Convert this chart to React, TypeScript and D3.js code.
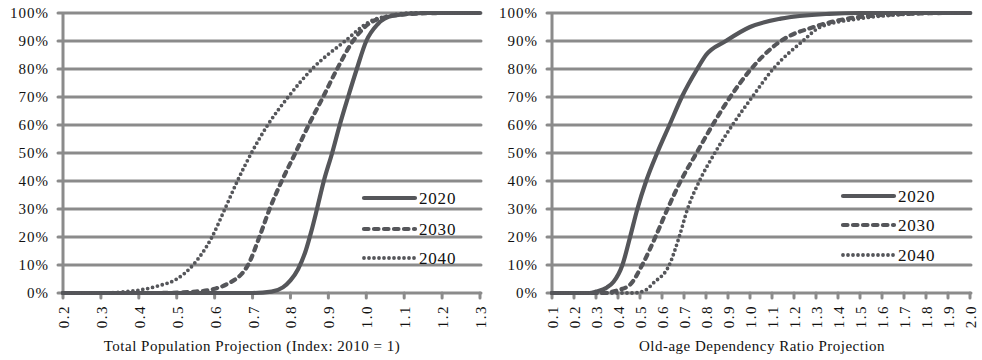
import React from "react";
import * as d3 from "d3";

// cumulative share (0..1) at each projection value
const pop2020: [number, number][] = [
  [0.2, 0], [0.7, 0], [0.75, 0.005], [0.78, 0.02], [0.8, 0.045], [0.82, 0.085], [0.84, 0.15],
  [0.855, 0.22], [0.87, 0.3], [0.888, 0.4], [0.91, 0.5], [0.93, 0.6], [0.952, 0.7], [0.975, 0.8],
  [1.0, 0.9], [1.03, 0.96], [1.07, 0.99], [1.15, 1], [1.3, 1],
];
const pop2030: [number, number][] = [
  [0.2, 0], [0.45, 0], [0.55, 0.005], [0.6, 0.015], [0.63, 0.03], [0.688, 0.1], [0.718, 0.2],
  [0.745, 0.3], [0.777, 0.4], [0.813, 0.5], [0.848, 0.6], [0.886, 0.7], [0.923, 0.8], [0.965, 0.9],
  [1.005, 0.96], [1.05, 0.985], [1.1, 0.995], [1.2, 1], [1.3, 1],
];
const pop2040: [number, number][] = [
  [0.2, 0], [0.3, 0], [0.35, 0.003], [0.4, 0.01], [0.45, 0.025], [0.5, 0.05], [0.543, 0.1],
  [0.593, 0.2], [0.627, 0.3], [0.66, 0.4], [0.697, 0.5], [0.74, 0.6], [0.794, 0.7], [0.857, 0.8],
  [0.944, 0.9], [1.01, 0.97], [1.06, 0.99], [1.12, 1], [1.3, 1],
];

const old2020: [number, number][] = [
  [0.1, 0], [0.27, 0], [0.3, 0.005], [0.35, 0.02], [0.38, 0.04], [0.42, 0.1], [0.455, 0.2],
  [0.488, 0.3], [0.528, 0.4], [0.578, 0.5], [0.634, 0.6], [0.69, 0.7], [0.76, 0.8], [0.8, 0.85],
  [0.89, 0.9], [1.0, 0.95], [1.14, 0.98], [1.36, 0.997], [1.5, 1], [2.0, 1],
];
const old2030: [number, number][] = [
  [0.1, 0], [0.33, 0], [0.4, 0.01], [0.455, 0.03], [0.51, 0.1], [0.57, 0.2], [0.625, 0.3],
  [0.685, 0.4], [0.757, 0.5], [0.83, 0.6], [0.91, 0.7], [1.005, 0.8], [1.14, 0.9], [1.29, 0.95],
  [1.41, 0.975], [1.55, 0.99], [1.75, 0.998], [1.9, 1], [2.0, 1],
];
const old2040: [number, number][] = [
  [0.1, 0], [0.47, 0], [0.525, 0.01], [0.56, 0.035], [0.633, 0.1], [0.678, 0.2], [0.716, 0.3],
  [0.77, 0.4], [0.84, 0.5], [0.92, 0.6], [1.01, 0.7], [1.105, 0.8], [1.24, 0.9], [1.32, 0.95],
  [1.5, 0.98], [1.7, 0.995], [1.9, 1], [2.0, 1],
];

const years = ["2020", "2030", "2040"];
const yTicks = [0, 0.1, 0.2, 0.3, 0.4, 0.5, 0.6, 0.7, 0.8, 0.9, 1];
const popTicks = [0.2, 0.3, 0.4, 0.5, 0.6, 0.7, 0.8, 0.9, 1.0, 1.1, 1.2, 1.3];
const oldTicks = [0.1, 0.2, 0.3, 0.4, 0.5, 0.6, 0.7, 0.8, 0.9, 1.0, 1.1, 1.2, 1.3, 1.4, 1.5, 1.6, 1.7, 1.8, 1.9, 2.0];

const gridColor = "#8b8b8b";
const lineColor = "#55565a";
const font = "Liberation Serif, Times New Roman, serif";

// solid, dashed, dotted
const styles = [
  { width: 4.2, dash: undefined as string | undefined },
  { width: 4.2, dash: "4.5 5.5" },
  { width: 3.8, dash: "0 5" },
];

type PanelProps = {
  series: [number, number][][];
  ticks: number[];
  x0: number;
  x1: number;
  title: string;
  titleX: number;
  labelRight: number;
  legendX: number;
  legendY: number[];
};

const Panel = ({ series, ticks, x0, x1, title, titleX, labelRight, legendX, legendY }: PanelProps) => {
  const x = d3.scaleLinear().domain([ticks[0], ticks[ticks.length - 1]]).range([x0, x1]);
  const y = d3.scaleLinear().domain([0, 1]).range([293, 13]);
  const line = d3
    .line<[number, number]>()
    .x((d) => x(d[0]))
    .y((d) => y(d[1]))
    .curve(d3.curveMonotoneX);

  return (
    <g>
      {/* horizontal grid + left ticks */}
      {yTicks.map((t) => (
        <g key={t}>
          <line x1={x0 - 5} x2={x1 + 1} y1={y(t)} y2={y(t)} stroke={gridColor} strokeWidth={3} strokeLinecap="round" />
          <text
            x={labelRight}
            y={y(t)}
            dy="0.35em"
            textAnchor="end"
            fontSize={15}
            letterSpacing={1}
            fontFamily={font}
            fill="#111"
          >
            {Math.round(t * 100) + "%"}
          </text>
        </g>
      ))}
      <line x1={x0} x2={x0} y1={y(1)} y2={y(0)} stroke={gridColor} strokeWidth={3} />
      {ticks.map((t) => (
        <g key={t}>
          <line x1={x(t)} x2={x(t)} y1={y(0)} y2={y(0) + 5} stroke={gridColor} strokeWidth={3} strokeLinecap="round" />
          <text
            transform={`translate(${x(t) + 6},305) rotate(-90)`}
            textAnchor="end"
            fontSize={15}
            letterSpacing={1.5}
            fontFamily={font}
            fill="#111"
          >
            {t.toFixed(1)}
          </text>
        </g>
      ))}
      {series.map((s, i) => (
        <path
          key={i}
          d={line(s) || ""}
          fill="none"
          stroke={lineColor}
          strokeWidth={styles[i].width}
          strokeDasharray={styles[i].dash}
          strokeLinecap="round"
          strokeLinejoin="round"
        />
      ))}
      {years.map((yr, i) => (
        <g key={yr}>
          <line
            x1={legendX}
            x2={legendX + 51}
            y1={legendY[i]}
            y2={legendY[i]}
            stroke={lineColor}
            strokeWidth={styles[i].width}
            strokeDasharray={styles[i].dash}
            strokeLinecap="round"
          />
          <text x={legendX + 55} y={legendY[i]} dy="0.36em" fontSize={17} letterSpacing={0.8} fontFamily={font} fill="#111">
            {yr}
          </text>
        </g>
      ))}
      <text x={titleX} y={351} textAnchor="middle" fontSize={15} letterSpacing={0.5} fontFamily={font} fill="#111">
        {title}
      </text>
    </g>
  );
};

export default function App() {
  return (
    <svg width={982} height={360} style={{ position: "absolute", left: 0, top: 0, background: "#fff" }}>
      <Panel
        series={[pop2020, pop2030, pop2040]}
        ticks={popTicks}
        x0={63}
        x1={480}
        title="Total Population Projection (Index: 2010 = 1)"
        titleX={252}
        labelRight={49}
        legendX={364}
        legendY={[198, 229, 258]}
      />
      <Panel
        series={[old2020, old2030, old2040]}
        ticks={oldTicks}
        x0={552}
        x1={970}
        title="Old-age Dependency Ratio Projection"
        titleX={762}
        labelRight={538}
        legendX={843}
        legendY={[196, 225, 255]}
      />
    </svg>
  );
}
